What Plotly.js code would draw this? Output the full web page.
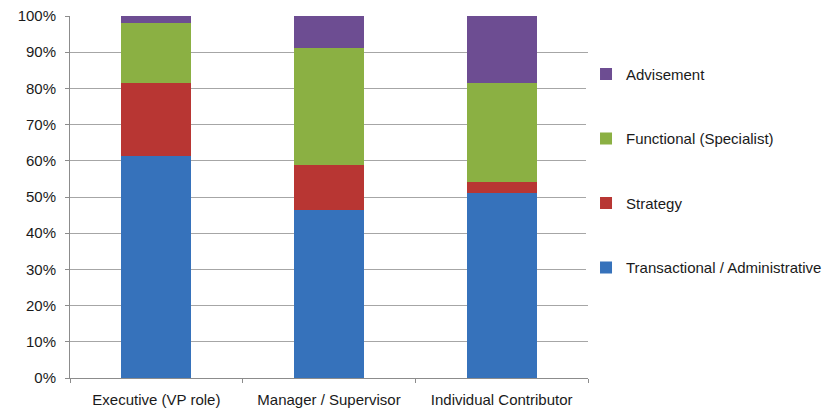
<!DOCTYPE html>
<html><head><meta charset="utf-8">
<script src="https://cdn.plot.ly/plotly-3.0.1.min.js"></script>
<style>html,body{margin:0;padding:0;background:#fff}#chart{width:833px;height:409px}</style>
</head><body><div id="chart"></div>
<script>
const categories = ["Executive (VP role)", "Manager / Supervisor", "Individual Contributor"];
const transactional = [61.3, 46.4, 51.1];
const strategy = [20.2, 12.4, 3.0];
const functional = [16.6, 32.4, 27.4];
const advisement = [1.9, 8.8, 18.5];
const seriesNames = ["Transactional / Administrative", "Strategy", "Functional (Specialist)", "Advisement"];
const seriesColors = ["#3672bb", "#b83633", "#8bb043", "#6d4d92"];
const yTickVals = [0,10,20,30,40,50,60,70,80,90,100];
const yTickText = yTickVals.map(v => v + "%");

const seriesData = [transactional, strategy, functional, advisement];
const traces = seriesData.map((vals, i) => ({
  type: "bar", x: categories, y: vals, name: seriesNames[i],
  legendgroup: "g" + i, legendrank: 4 - i,
  marker: {color: seriesColors[i], line: {width: 0}},
  hoverinfo: "name+y"
}));

const layout = {
  width: 833, height: 409,
  margin: {l: 70, r: 245, t: 16, b: 31, autoexpand: false},
  barmode: "stack", bargap: 0.595,
  paper_bgcolor: "#fff", plot_bgcolor: "#fff",
  font: {family: "'Liberation Sans', Arial, sans-serif", size: 15, color: "#1a1a1a"},
  showlegend: true,
  legend: {xref: "container", x: 0.7035, xanchor: "left", y: 0.885, yanchor: "top", traceorder: "grouped",
           tracegroupgap: 42, font: {size: 15}, itemwidth: 30},
  xaxis: {type: "category", tickson: "boundaries", ticks: "outside", ticklen: 4, tickcolor: "#8c8c8c",
          showline: true, linecolor: "#8c8c8c", linewidth: 1, showgrid: false, ticklabelstandoff: 8,
          fixedrange: true},
  yaxis: {range: [0, 100], tickvals: yTickVals, ticktext: yTickText, ticks: "outside", ticklen: 4,
          tickcolor: "#8c8c8c", showline: true, linecolor: "#8c8c8c", linewidth: 1,
          showgrid: true, gridcolor: "#a6a6a6", gridwidth: 1, zeroline: false, ticklabelstandoff: 6,
          fixedrange: true}
};
Plotly.newPlot("chart", traces, layout, {displayModeBar: false, staticPlot: true});
</script></body></html>
